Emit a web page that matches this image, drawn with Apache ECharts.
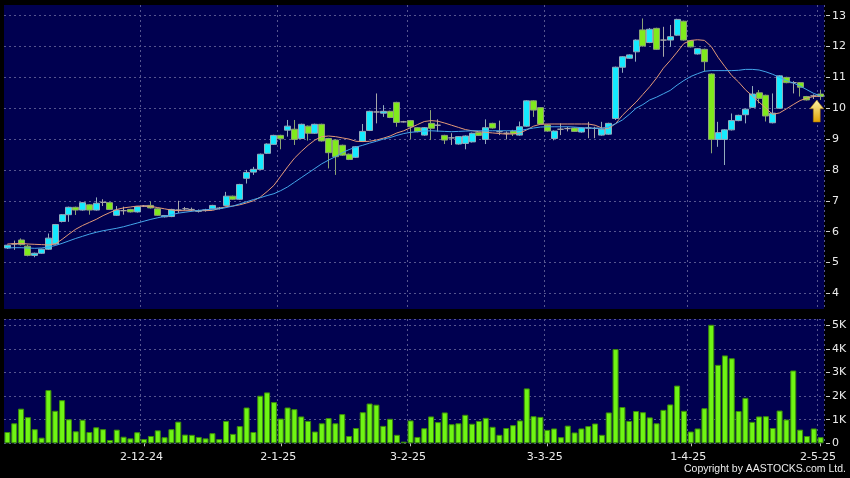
<!DOCTYPE html>
<html><head><meta charset="utf-8">
<script src="https://cdn.jsdelivr.net/npm/echarts@6/dist/echarts.min.js"></script>
<style>html,body{margin:0;padding:0;background:#000;}#c{width:850px;height:478px;}</style>
</head><body><div id="c"></div>
<script>
const dates = ["4-11-24","5-11-24","6-11-24","7-11-24","8-11-24","11-11-24","12-11-24","13-11-24","14-11-24","15-11-24","18-11-24","19-11-24","20-11-24","21-11-24","22-11-24","25-11-24","26-11-24","27-11-24","28-11-24","29-11-24",
"2-12-24","3-12-24","4-12-24","5-12-24","6-12-24","9-12-24","10-12-24","11-12-24","12-12-24","13-12-24","16-12-24","17-12-24","18-12-24","19-12-24","20-12-24","23-12-24","24-12-24","27-12-24","30-12-24","31-12-24",
"2-1-25","3-1-25","6-1-25","7-1-25","8-1-25","9-1-25","10-1-25","13-1-25","14-1-25","15-1-25","16-1-25","17-1-25","20-1-25","21-1-25","22-1-25","23-1-25","24-1-25","27-1-25","28-1-25",
"3-2-25","4-2-25","5-2-25","6-2-25","7-2-25","10-2-25","11-2-25","12-2-25","13-2-25","14-2-25","17-2-25","18-2-25","19-2-25","20-2-25","21-2-25","24-2-25","25-2-25","26-2-25","27-2-25","28-2-25",
"3-3-25","4-3-25","5-3-25","6-3-25","7-3-25","10-3-25","11-3-25","12-3-25","13-3-25","14-3-25","17-3-25","18-3-25","19-3-25","20-3-25","21-3-25","24-3-25","25-3-25","26-3-25","27-3-25","28-3-25","31-3-25",
"1-4-25","2-4-25","3-4-25","7-4-25","8-4-25","9-4-25","10-4-25","11-4-25","14-4-25","15-4-25","16-4-25","17-4-25","22-4-25","23-4-25","24-4-25","25-4-25","28-4-25","29-4-25","30-4-25",
"2-5-25"];
const tickDates = ["2-12-24","2-1-25","3-2-25","3-3-25","1-4-25","2-5-25"];
const priceTicks = [4,5,6,7,8,9,10,11,12,13];

const open = [5.47,5.60,5.73,5.53,5.23,5.30,5.43,5.60,6.33,6.55,
6.79,6.70,6.87,6.70,6.95,6.94,6.53,6.68,6.72,6.64,
6.83,6.85,6.74,6.48,6.49,6.70,6.74,6.72,6.66,6.70,
6.74,6.76,6.85,7.15,7.05,7.73,7.93,8.02,8.54,8.83,
9.12,9.29,9.32,9.02,9.42,9.19,9.48,9.02,8.97,8.80,
8.51,8.41,8.93,9.28,9.88,9.84,9.90,10.19,9.56,9.60,
9.37,9.13,9.51,9.45,9.12,9.04,8.84,8.86,8.91,9.21,
8.99,9.51,9.24,9.19,9.26,9.13,9.42,10.24,10.02,9.46,
9.02,9.32,9.34,9.36,9.23,9.36,9.35,9.13,9.16,9.67,
11.33,11.62,11.83,12.54,12.13,12.59,12.21,12.21,12.37,12.82,
12.19,11.76,11.91,11.11,8.99,8.99,9.30,9.60,9.79,10.03,
10.50,10.42,9.53,10.00,11.00,10.83,10.83,10.38,10.40,10.46];
const close = [5.56,5.60,5.58,5.23,5.30,5.43,5.79,6.23,6.55,6.79,
6.70,6.94,6.70,6.92,6.95,6.72,6.70,6.68,6.64,6.81,
6.83,6.77,6.53,6.52,6.72,6.70,6.74,6.72,6.68,6.70,
6.85,6.76,7.15,7.05,7.53,7.92,8.02,8.51,8.84,9.12,
9.01,9.42,8.99,9.48,9.19,9.48,8.94,8.56,8.43,8.48,
8.34,8.75,9.25,9.90,9.88,9.90,9.70,9.54,9.56,9.40,
9.24,9.37,9.35,9.45,8.97,9.04,9.08,9.10,9.19,9.12,
9.37,9.36,9.24,9.19,9.17,9.40,10.24,9.94,9.49,9.26,
9.26,9.32,9.34,9.25,9.36,9.36,9.35,9.32,9.51,11.33,
11.67,11.73,12.21,12.02,12.56,11.91,12.21,12.32,12.88,12.21,
11.99,11.93,11.51,8.99,9.21,9.30,9.60,9.77,9.97,10.46,
10.32,9.75,9.84,11.05,10.83,10.83,10.68,10.27,10.40,10.38];
const low = [5.44,5.41,5.55,5.20,5.17,5.28,5.41,5.58,6.30,6.32,
6.54,6.68,6.55,6.68,6.83,6.70,6.51,6.55,6.62,6.62,
6.80,6.75,6.51,6.46,6.47,6.60,6.70,6.66,6.62,6.65,
6.72,6.72,6.83,7.03,7.03,7.56,7.84,8.00,8.52,8.81,
8.67,9.08,8.81,9.00,8.95,9.17,8.92,8.05,7.84,8.46,
8.32,8.39,8.91,9.26,9.51,9.72,9.68,9.40,9.54,9.00,
9.22,9.11,8.97,9.24,8.84,8.81,8.82,8.67,8.89,9.10,
8.84,9.34,9.13,8.99,9.10,9.11,9.40,9.72,9.47,9.24,
8.96,9.13,9.25,9.23,9.21,9.03,9.03,9.11,9.14,9.62,
11.15,11.60,11.51,12.00,12.11,11.89,11.67,11.99,12.35,12.19,
11.97,11.74,11.19,8.54,8.75,8.16,9.28,9.58,9.51,10.01,
10.16,9.57,9.51,9.98,10.81,10.48,10.38,10.25,10.30,10.27];
const high = [5.58,5.71,5.78,5.58,5.32,5.45,5.94,6.25,6.57,6.81,
6.81,6.96,6.89,7.11,7.05,6.96,6.83,6.81,6.74,6.83,
6.86,6.98,6.76,6.54,6.74,7.00,6.80,6.78,6.72,6.74,
6.87,6.80,7.29,7.17,7.55,8.00,8.10,8.53,8.86,9.14,
9.14,9.62,9.62,9.50,9.44,9.50,9.50,9.04,8.99,8.82,
8.53,8.77,9.49,9.92,10.48,10.10,9.92,10.21,9.59,9.62,
9.39,9.39,9.94,9.64,9.14,9.19,9.10,9.12,9.21,9.23,
9.64,9.53,9.60,9.25,9.30,9.57,10.26,10.26,10.04,9.48,
9.28,9.51,9.40,9.38,9.38,9.56,9.40,9.56,9.53,11.35,
11.69,11.75,12.23,12.91,12.60,12.61,12.64,12.70,12.90,12.84,
12.21,11.95,11.93,11.13,9.56,9.32,9.83,9.79,9.99,10.72,
10.59,10.44,10.48,11.07,11.02,10.88,10.85,10.40,10.45,10.60];
const maShort = [5.60,5.61,5.62,5.60,5.59,5.58,5.57,5.60,5.75,5.92,
6.08,6.20,6.30,6.40,6.52,6.62,6.72,6.77,6.80,6.83,
6.83,6.82,6.78,6.74,6.70,6.68,6.68,6.68,6.68,6.68,
6.69,6.75,6.81,6.83,6.87,6.93,7.00,7.12,7.30,7.50,
7.80,8.10,8.38,8.60,8.80,8.97,9.08,9.10,9.08,9.04,
9.00,8.93,8.92,8.93,8.97,9.03,9.10,9.20,9.27,9.37,
9.47,9.57,9.60,9.58,9.52,9.45,9.38,9.31,9.27,9.24,
9.22,9.20,9.18,9.16,9.17,9.20,9.30,9.42,9.48,9.49,
9.49,9.49,9.49,9.49,9.49,9.49,9.45,9.36,9.35,9.50,
9.77,9.99,10.20,10.45,10.70,10.98,11.30,11.55,11.82,12.10,
12.20,12.22,12.20,12.00,11.65,11.35,11.06,10.85,10.60,10.40,
10.20,10.00,9.80,9.85,9.98,10.12,10.25,10.33,10.38,10.40];
const maLong = [5.47,5.48,5.48,5.47,5.46,5.47,5.50,5.55,5.62,5.70,
5.78,5.85,5.92,5.98,6.03,6.07,6.11,6.16,6.22,6.28,
6.34,6.40,6.45,6.50,6.55,6.60,6.63,6.66,6.69,6.71,
6.73,6.74,6.78,6.83,6.90,6.97,7.04,7.10,7.17,7.23,
7.33,7.45,7.60,7.75,7.90,8.05,8.20,8.32,8.43,8.56,
8.66,8.74,8.80,8.87,8.93,9.00,9.05,9.12,9.18,9.22,
9.24,9.26,9.27,9.26,9.25,9.24,9.25,9.26,9.27,9.27,
9.27,9.27,9.27,9.27,9.27,9.28,9.32,9.36,9.39,9.40,
9.40,9.40,9.40,9.39,9.37,9.36,9.35,9.35,9.40,9.50,
9.62,9.80,10.00,10.12,10.27,10.36,10.47,10.58,10.75,10.90,
11.03,11.12,11.20,11.22,11.22,11.22,11.22,11.23,11.26,11.26,
11.24,11.18,11.10,11.00,10.90,10.82,10.72,10.60,10.48,10.40];
const volume = [480,850,1470,1110,600,240,2260,1380,1830,1020,
510,1000,480,680,600,140,580,280,210,470,
180,310,550,260,600,920,370,360,270,210,
430,180,950,400,730,1520,480,2020,2160,1750,
1050,1520,1450,1140,950,500,850,1070,850,1240,
310,650,1320,1690,1640,740,1040,360,70,970,
270,640,1140,900,1310,810,850,1210,830,950,
1080,700,360,650,770,970,2330,1150,1120,570,
630,260,750,460,630,730,840,360,1310,4000,
1540,950,1370,1320,1100,850,1420,1650,2450,1380,
500,630,1490,5030,3330,3730,3610,1370,1930,910,
1140,1150,650,1390,1010,3090,580,310,630,260];

const ohlc = dates.map((d, i) => [open[i], close[i], low[i], high[i]]);
const tickIdx = tickDates.map(d => dates.indexOf(d));
const showAt = (idx) => tickIdx.indexOf(idx) >= 0;
const labelFont = { color: '#ececec', fontFamily: 'DejaVu Sans', fontSize: 11 };
const gridLine = { show: true, lineStyle: { color: '#55558e', type: [2, 3], width: 1 } };

const chart = echarts.init(document.getElementById('c'));
chart.setOption({
  animation: false,
  backgroundColor: '#000',
  grid: [
    { left: 4, right: 26, top: 5, height: 304, show: true, backgroundColor: '#000050', borderWidth: 0 },
    { left: 4, right: 26, top: 319, height: 124.3, show: true, backgroundColor: '#000050', borderWidth: 0 }
  ],
  xAxis: [
    { type: 'category', gridIndex: 0, data: dates, boundaryGap: true,
      axisLine: { show: false }, axisTick: { show: false }, axisLabel: { show: false },
      splitLine: Object.assign({ interval: showAt }, gridLine) },
    { type: 'category', gridIndex: 1, data: dates, boundaryGap: true, offset: 3,
      axisLine: { show: false },
      axisTick: { show: true, alignWithLabel: true, interval: showAt, length: 3, lineStyle: { color: '#bbbbbb' } },
      axisLabel: Object.assign({ interval: showAt, margin: 5, padding: [0, 5, 0, 0] }, labelFont),
      splitLine: Object.assign({ interval: showAt }, gridLine) }
  ],
  yAxis: [
    { type: 'value', gridIndex: 0, position: 'right', min: 3.493, max: 13.347, offset: 2,
      axisLine: { show: false },
      axisTick: { show: true, length: 4, customValues: priceTicks, lineStyle: { color: '#cccccc' } },
      axisLabel: Object.assign({ customValues: priceTicks, margin: 6 }, labelFont),
      splitLine: gridLine },
    { type: 'value', gridIndex: 1, position: 'right', min: 0, max: 5276, interval: 1000, offset: 2,
      axisLine: { show: false },
      axisTick: { show: true, length: 4, lineStyle: { color: '#cccccc' } },
      axisLabel: Object.assign({ margin: 6, formatter: v => v === 0 ? '0' : (v / 1000) + 'K' }, labelFont),
      splitLine: gridLine }
  ],
  series: [
    { type: 'candlestick', xAxisIndex: 0, yAxisIndex: 0, data: ohlc, barWidth: 6.5, z: 2,
      itemStyle: { color: '#14eaff', color0: '#80ea1c', borderColor: '#92acbc', borderColor0: '#8ca474',
        borderColorDoji: '#a8a8a8', borderWidth: 1 },
      markPoint: {
        symbol: 'path://M6,0 L12,8 L9,8 L9,20 L3,20 L3,8 L0,8 Z',
        symbolSize: [14, 22], symbolOffset: [3, 0], label: { show: false },
        itemStyle: { color: new echarts.graphic.LinearGradient(0, 0, 0, 1, [
          { offset: 0, color: '#fff6a8' }, { offset: 1, color: '#e0a000' }]), borderColor: '#a07000', borderWidth: 0.5 },
        data: [{ coord: [118, 9.91] }]
      } },
    { type: 'line', xAxisIndex: 0, yAxisIndex: 0, data: maShort, symbol: 'none', z: 3,
      lineStyle: { color: '#e49a78', width: 1 } },
    { type: 'line', xAxisIndex: 0, yAxisIndex: 0, data: maLong, symbol: 'none', z: 3,
      lineStyle: { color: '#44a6ea', width: 1 } },
    { type: 'bar', xAxisIndex: 1, yAxisIndex: 1, data: volume, barWidth: 6,
      itemStyle: { color: '#6ff514', borderColor: '#3c8c0a', borderWidth: 1 } }
  ],
  graphic: [
    { type: 'text', right: 4, top: 464, style: { text: 'Copyright by AASTOCKS.com Ltd.', fill: '#ececec',
      font: '10.5px "Liberation Sans", Arial, sans-serif' } }
  ]
});
</script></body></html>
